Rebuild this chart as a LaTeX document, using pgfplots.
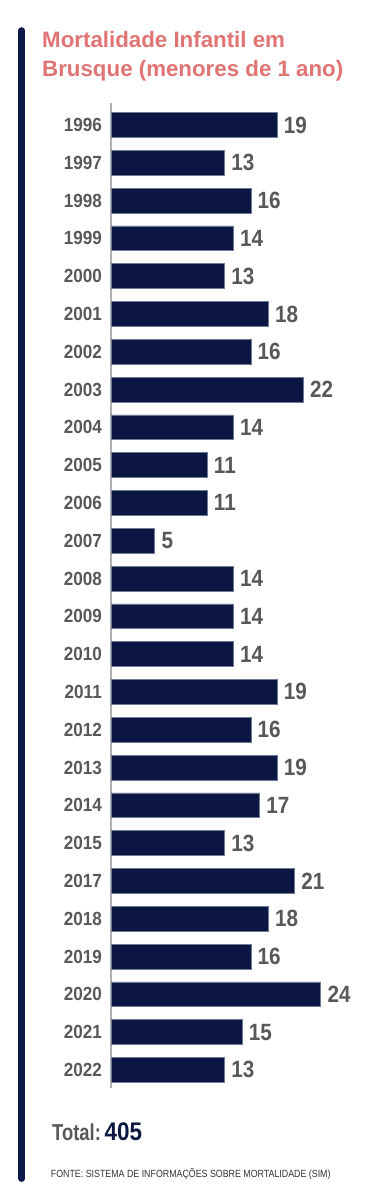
\documentclass[border=0pt]{standalone}
\usepackage{pgfplots}
\pgfplotsset{compat=1.18}
\usepackage{fontspec}
\setmainfont{Liberation Sans}
\newfontfamily\cond[FakeStretch=0.88]{Liberation Sans}
\newfontfamily\condy[FakeStretch=0.9]{Liberation Sans}
\newfontfamily\condn[FakeStretch=0.8]{Liberation Sans}
\newfontfamily\condf[FakeStretch=0.85]{Liberation Sans}
\definecolor{navy}{HTML}{0B1642}
\definecolor{stripe}{HTML}{0E1A4A}
\definecolor{salmon}{HTML}{E07474}
\definecolor{txtgray}{HTML}{58585A}
\definecolor{axgray}{HTML}{B0B0B0}
\definecolor{baredge}{HTML}{6D7A96}
\begin{document}
\begin{tikzpicture}
\useasboundingbox (0,0) rectangle (380bp,1200bp);
\draw[line width=6.5bp, line cap=round, stripe] (21.7bp,1169.5bp) -- (21.7bp,21.3bp);
\node[anchor=base west, inner sep=0pt, text=salmon, font=\fontsize{22.3bp}{26bp}\selectfont\bfseries] at (42bp,1152.3bp) {Mortalidade Infantil em};
\node[anchor=base west, inner sep=0pt, text=salmon, font=\fontsize{22.3bp}{26bp}\selectfont\bfseries] at (42bp,1123.8bp) {Brusque (menores de 1 ano)};
\begin{axis}[
  at={(111bp,1097bp)}, anchor=north west,
  scale only axis, width=262.2bp, height=985bp,
  xmin=0, xmax=30, ymin=-0.58, ymax=25.48,
  y dir=reverse,
  clip=false,
  axis x line=none,
  axis y line*=left,
  axis line style={-, draw=axgray, line width=1.6bp},
  xbar, bar width=0.66,
  ytick={0,...,25},
  yticklabels={1996,1997,1998,1999,2000,2001,2002,2003,2004,2005,2006,2007,2008,2009,2010,2011,2012,2013,2014,2015,2017,2018,2019,2020,2021,2022},
  major tick length=0pt,
  yticklabel style={font=\fontsize{19bp}{20bp}\selectfont\condy\bfseries, text=txtgray, inner sep=0pt, xshift=-9bp},
  /pgf/number format/assume math mode=true,
  nodes near coords,
  nodes near coords style={font=\fontsize{23.5bp}{24bp}\selectfont\cond\bfseries, text=txtgray, inner sep=0pt, anchor=west, xshift=6.5bp},
]
\addplot[fill=navy, draw=baredge, line width=0.6bp] coordinates {
(19,0) (13,1) (16,2) (14,3) (13,4) (18,5) (16,6) (22,7) (14,8) (11,9) (11,10) (5,11) (14,12) (14,13) (14,14) (19,15) (16,16) (19,17) (17,18) (13,19) (21,20) (18,21) (16,22) (24,23) (15,24) (13,25)
};
\end{axis}
\node[anchor=base west, inner sep=0pt] at (52bp,59bp) {{\fontsize{23bp}{24bp}\selectfont\condn\bfseries\color{txtgray}Total:} {\fontsize{25.5bp}{26bp}\selectfont\cond\bfseries\color{navy}405}};
\node[anchor=base west, inner sep=0pt, text=black!80, font=\fontsize{10.4bp}{12bp}\selectfont\condf] at (50.7bp,22.7bp) {FONTE: SISTEMA DE INFORMAÇÕES SOBRE MORTALIDADE (SIM)};
\end{tikzpicture}
\end{document}
